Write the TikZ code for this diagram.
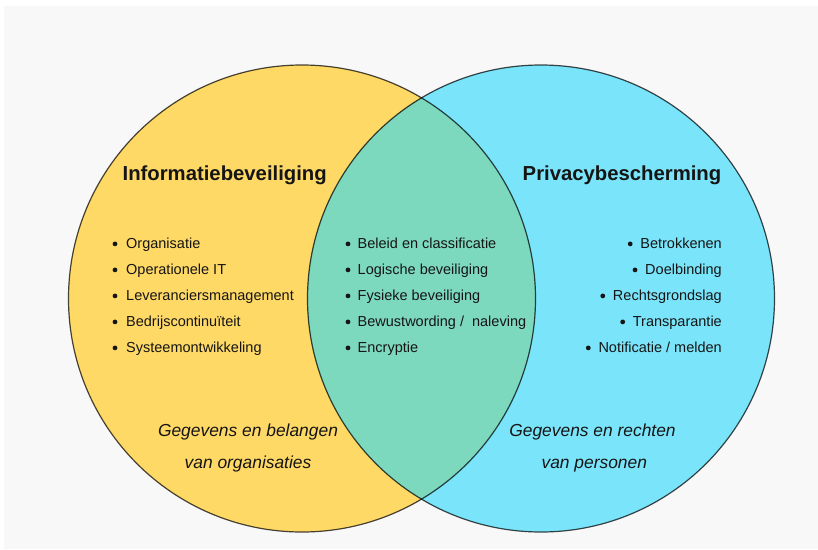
\documentclass[tikz,border=0pt]{standalone}
\usepackage{fontspec}
\setmainfont{Liberation Sans}
\definecolor{pagegray}{HTML}{F8F8F8}
\definecolor{infoyellow}{HTML}{FFD966}
\definecolor{privblue}{HTML}{7AE5FA}
\definecolor{overlapgreen}{HTML}{7DD9BE}
\definecolor{inktext}{HTML}{151515}
\begin{document}
\begin{tikzpicture}[x=1pt,y=-1pt,
  outline/.style={draw=black, draw opacity=0.72, line width=1.2pt},
  title/.style={inner sep=0pt, anchor=base, text=inktext,
    font=\fontsize{20.3pt}{24pt}\selectfont\bfseries},
  itemleft/.style={inner sep=0pt, anchor=base west, text=inktext,
    font=\fontsize{14.5pt}{17pt}\selectfont},
  itemright/.style={inner sep=0pt, anchor=base east, text=inktext,
    font=\fontsize{14.5pt}{17pt}\selectfont},
  note/.style={inner sep=0pt, anchor=base, text=inktext,
    font=\fontsize{17.4pt}{21pt}\selectfont\itshape},
  dot/.style={fill=inktext}]
\useasboundingbox (0,0) rectangle (818,549);
\fill[white] (0,0) rectangle (818,549);
\fill[pagegray] (4,6) rectangle (818,549);

% the two sets
\coordinate (cl) at (302,298.5);
\coordinate (cr) at (541,298.5);
\fill[infoyellow] (cl) circle[radius=233.5pt];
\fill[privblue] (cr) circle[radius=233.5pt];
\begin{scope}
  \clip (cl) circle[radius=233.5pt];
  \fill[overlapgreen] (cr) circle[radius=233.5pt];
\end{scope}
\draw[outline] (cl) circle[radius=233.5pt];
\draw[outline] (cr) circle[radius=233.5pt];

% headings
\node[title] (tinfo) at (224.7,180.7) {Informatiebeveiliging};
\node[title] (tpriv) at (622,180.7) {Privacybescherming};

% left list
\node[itemleft] (l1) at (126,248.5) {Organisatie};
\node[itemleft] (l2) at (126,274.5) {Operationele IT};
\node[itemleft] (l3) at (126,300.5) {Leveranciersmanagement};
\node[itemleft] (l4) at (126,326.5) {Bedrijscontinuïteit};
\node[itemleft] (l5) at (126,352.5) {Systeemontwikkeling};
\foreach \n in {l1,l2,l3,l4,l5}
  \fill[dot] ([shift={(-11,-4.6)}]\n.base west) circle[radius=2.4pt];

% shared list
\node[itemleft] (m1) at (357.5,248.5) {Beleid en classificatie};
\node[itemleft] (m2) at (357.5,274.5) {Logische beveiliging};
\node[itemleft] (m3) at (357.5,300.5) {Fysieke beveiliging};
\node[itemleft] (m4) at (357.5,326.5) {Bewustwording /\ \ naleving};
\node[itemleft] (m5) at (357.5,352.5) {Encryptie};
\foreach \n in {m1,m2,m3,m4,m5}
  \fill[dot] ([shift={(-9.5,-4.6)}]\n.base west) circle[radius=2.4pt];

% right list
\node[itemright] (r1) at (722,248.5) {Betrokkenen};
\node[itemright] (r2) at (722,274.5) {Doelbinding};
\node[itemright] (r3) at (722,300.5) {Rechtsgrondslag};
\node[itemright] (r4) at (722,326.5) {Transparantie};
\node[itemright] (r5) at (722,352.5) {Notificatie / melden};
\foreach \n in {r1,r2,r3,r4,r5}
  \fill[dot] ([shift={(-10,-4.6)}]\n.base west) circle[radius=2.4pt];

% footnotes of each set
\node[note] (nl1) at (248,436.5) {Gegevens en belangen};
\node[note] (nl2) at (248,468.5) {van organisaties};
\node[note] (nr1) at (592.5,436.5) {Gegevens en rechten};
\node[note] (nr2) at (594.3,468.5) {van personen};
\end{tikzpicture}
\end{document}
